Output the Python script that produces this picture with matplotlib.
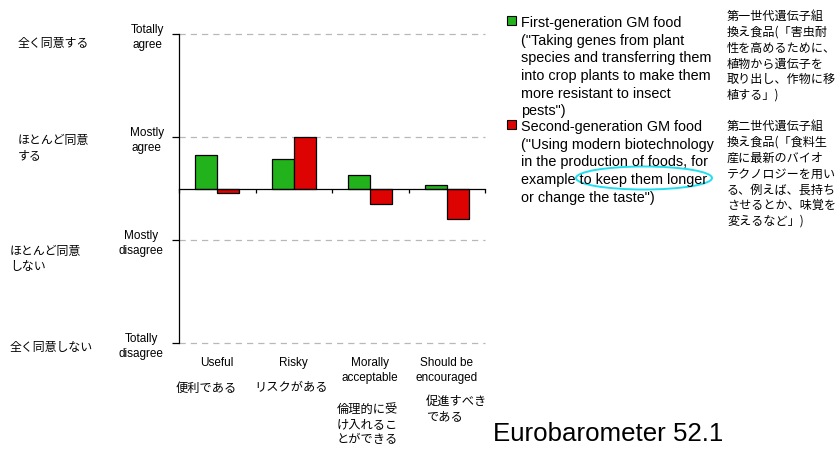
import matplotlib
matplotlib.use("Agg")
import matplotlib.pyplot as plt
from matplotlib.patches import Rectangle, Ellipse

plt.rcParams['font.family'] = ['Liberation Sans', 'Noto Sans CJK JP', 'DejaVu Sans']
JP = ['Noto Sans CJK JP', 'Liberation Sans']

# data
categories = ['Useful', 'Risky', 'Morally\nacceptable', 'Should be\nencouraged']
categories_jp = ['便利である', 'リスクがある', '倫理的に受\nけ入れるこ\nとができる', '促進すべき\nである']
first_gen = [0.66, 0.58, 0.27, 0.07]
second_gen = [-0.08, 1.00, -0.30, -0.60]
scale_vals = [3, 1, -1, -3]
scale_labels = ['Totally\nagree', 'Mostly\nagree', 'Mostly\ndisagree', 'Totally\ndisagree']
scale_labels_jp = ['全く同意する', 'ほとんど同意\nする', 'ほとんど同意\nしない', '全く同意しない']

legend_first = ('First-generation GM food\n("Taking genes from plant\nspecies and transferring them\n'
                'into crop plants to make them\nmore resistant to insect\npests")')
legend_second = ('Second-generation GM food\n("Using modern biotechnology\nin the production of foods, for\n'
                 'example to keep them longer\nor change the taste")')
legend_first_jp = '第一世代遺伝子組\n換え食品(「害虫耐\n性を高めるために、\n植物から遺伝子を\n取り出し、作物に移\n植する」)'
legend_second_jp = '第二世代遺伝子組\n換え食品(「食料生\n産に最新のバイオ\nテクノロジーを用い\nる、例えば、長持ち\nさせるとか、味覚を\n変えるなど」)'

green = '#22b31c'
red = '#dd0303'

W, H = 838, 452
fig = plt.figure(figsize=(W / 100, H / 100), dpi=100)


def px(x, y):
    return x / W, 1 - y / H


ax = fig.add_axes([179 / W, 1 - 344 / H, 306 / W, 309 / H])

n = len(categories)
xs = list(range(n))
bw = 0.29
ax.bar([i + 0.5 - bw / 2 for i in xs], first_gen, width=bw, color=green, edgecolor='black', linewidth=0.9, zorder=3)
ax.bar([i + 0.5 + bw / 2 for i in xs], second_gen, width=bw, color=red, edgecolor='black', linewidth=0.9, zorder=3)

ax.set_xlim(0, n)
ax.set_ylim(-3, 3)
ax.set_yticks(scale_vals)
ax.set_yticklabels(scale_labels, fontsize=8.5, multialignment='center', linespacing=1.25)
ax.tick_params(axis='y', length=5, width=0.9, pad=6)
ax.yaxis.grid(True, color='#b8b8b8', linestyle=(0, (5, 4)), linewidth=0.9)
for gl in ax.get_ygridlines():
    gl.set_clip_on(False)
ax.set_axisbelow(True)

ax.spines['top'].set_visible(False)
ax.spines['right'].set_visible(False)
ax.spines['bottom'].set_position(('data', 0))
ax.spines['bottom'].set_zorder(4)
ax.spines['left'].set_linewidth(0.9)
ax.spines['bottom'].set_linewidth(0.9)
ax.set_xticks(range(n + 1))
ax.set_xticklabels([])
ax.tick_params(axis='x', length=3, width=0.9, direction='out')

# category labels below the plot
for i, lab in enumerate(categories):
    ax.text(i + 0.5, -3.25, lab, ha='center', va='top', fontsize=8.5, linespacing=1.4, clip_on=False)

jp_pos = [(206, 388, 'center'), (291, 388, 'center'), (337, 403, 'left'), (426, 395, 'left')]
for lab, (x, y, ha) in zip(categories_jp, jp_pos):
    fig.text(*px(x, y), lab, ha=ha, va='top' if '\n' in lab else 'center', fontsize=8.8,
             family=JP, linespacing=1.2)

# japanese scale labels on the far left
jp_left = [(18, 43), (18, 148), (10, 259), (10, 348)]
for lab, (x, y) in zip(scale_labels_jp, jp_left):
    fig.text(*px(x, y), lab, ha='left', va='center', fontsize=8.6, family=JP, linespacing=1.25)

# legend
fig.patches.append(Rectangle(px(507, 26), 9 / W, 9 / H, transform=fig.transFigure,
                             facecolor=green, edgecolor='black', linewidth=0.8))
fig.patches.append(Rectangle(px(507, 130), 9 / W, 9 / H, transform=fig.transFigure,
                             facecolor=red, edgecolor='black', linewidth=0.8))
fig.text(*px(521, 16), legend_first, ha='left', va='top', fontsize=10.4, linespacing=1.33)
fig.text(*px(521, 120), legend_second, ha='left', va='top', fontsize=10.4, linespacing=1.33)
fig.text(*px(727, 10), legend_first_jp, ha='left', va='top', fontsize=8.7, family=JP, linespacing=1.28)
fig.text(*px(727, 120), legend_second_jp, ha='left', va='top', fontsize=8.7, family=JP, linespacing=1.28)

fig.patches.append(Ellipse(px(644, 179), 136 / W, 23 / H, transform=fig.transFigure,
                           facecolor='none', edgecolor='#1fe0f0', linewidth=1.4))

fig.text(*px(493, 434), 'Eurobarometer 52.1', ha='left', va='center', fontsize=18.6)

fig.savefig('out.png', dpi=100)
